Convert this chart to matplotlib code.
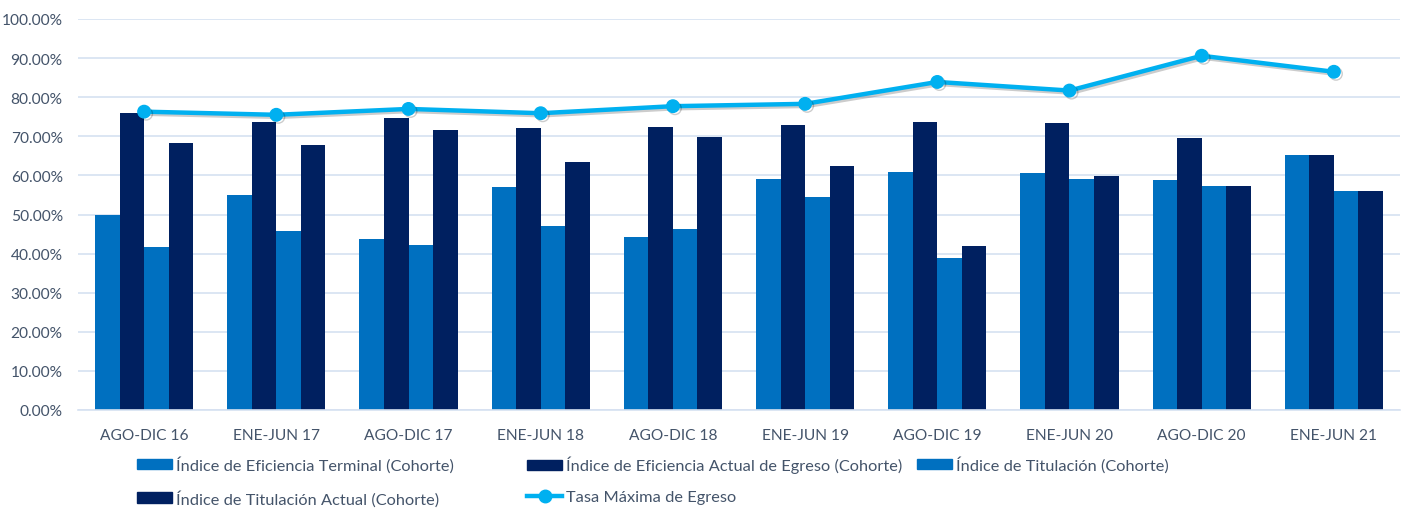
import matplotlib
matplotlib.use("Agg")
import matplotlib.pyplot as plt
import matplotlib.patheffects as pe
import numpy as np
from matplotlib.ticker import PercentFormatter
from matplotlib.patches import Patch
from matplotlib.lines import Line2D

plt.rcParams['font.family'] = ['Lato', 'DejaVu Sans']

categories = ["AGO-DIC 16", "ENE-JUN 17", "AGO-DIC 17", "ENE-JUN 18", "AGO-DIC 18",
              "ENE-JUN 19", "AGO-DIC 19", "ENE-JUN 20", "AGO-DIC 20", "ENE-JUN 21"]
eficiencia_terminal = [50.0, 55.1, 43.7, 57.0, 44.2, 59.2, 60.9, 60.5, 58.8, 65.3]
eficiencia_actual = [76.0, 73.6, 74.6, 72.1, 72.3, 72.8, 73.6, 73.4, 69.5, 65.3]
titulacion = [41.8, 45.9, 42.2, 47.0, 46.3, 54.5, 39.0, 59.0, 57.4, 56.0]
titulacion_actual = [68.3, 67.8, 71.7, 63.5, 69.8, 62.4, 42.0, 59.8, 57.4, 56.0]
tasa_maxima = [76.3, 75.5, 77.0, 75.9, 77.7, 78.3, 83.9, 81.7, 90.6, 86.5]

labels = ["Índice de Eficiencia Terminal (Cohorte)",
          "Índice de Eficiencia Actual de Egreso (Cohorte)",
          "Índice de Titulación (Cohorte)",
          "Índice de Titulación Actual (Cohorte)",
          "Tasa Máxima de Egreso"]

c_light = "#0070C0"
c_dark = "#002060"
c_line = "#00B0F0"
c_text = "#44546A"
c_grid = "#D6E1F1"

fig = plt.figure(figsize=(14.07, 5.10), dpi=100)
ax = fig.add_axes([78/1407, 1-411/510, (1400-78)/1407, (411-20)/510])

x = np.arange(len(categories))
w = 0.186
series = [eficiencia_terminal, eficiencia_actual, titulacion, titulacion_actual]
colors = [c_light, c_dark, c_light, c_dark]
for i, (s, c) in enumerate(zip(series, colors)):
    ax.bar(x + (i - 1.5) * w, s, width=w, color=c, zorder=2)

ax.plot(x, tasa_maxima, color=c_line, lw=3.2, marker='o', markersize=9, zorder=3,
        path_effects=[pe.SimpleLineShadow(offset=(1.5, -1.5), alpha=0.2), pe.Normal()])

ax.set_xlim(-0.5, len(categories) - 0.5)
ax.set_ylim(0, 100)
ax.set_yticks(np.arange(0, 101, 10))
ax.yaxis.set_major_formatter(PercentFormatter(decimals=2))
ax.set_xticks(x)
ax.set_xticklabels(categories)
ax.grid(axis='y', color=c_grid, lw=1.2, zorder=0)
ax.set_axisbelow(True)
for s in ['top', 'right', 'left']:
    ax.spines[s].set_visible(False)
ax.spines['bottom'].set_color(c_grid)
ax.spines['bottom'].set_linewidth(1.2)
ax.tick_params(axis='both', length=0, labelsize=11.2, labelcolor=c_text)
ax.tick_params(axis='y', pad=11)
ax.tick_params(axis='x', pad=13)

handles = [Patch(color=c_light), Patch(color=c_dark), Patch(color=c_light), Patch(color=c_dark),
           Line2D([], [], color=c_line, lw=3.2, marker='o', markersize=9)]

cols = [([0, 3], 137), ([1, 4], 527), ([2], 917)]
for idx, xpix in cols:
    leg = fig.legend([handles[i] for i in idx], [labels[i] for i in idx],
                     loc='upper left', bbox_to_anchor=(xpix/1407, 1-457/510),
                     frameon=False, fontsize=11.8, labelcolor=c_text,
                     handlelength=2.15, handleheight=0.6, handletextpad=0.2,
                     labelspacing=1.03, borderpad=0, borderaxespad=0)

fig.savefig("out.png", dpi=100)
